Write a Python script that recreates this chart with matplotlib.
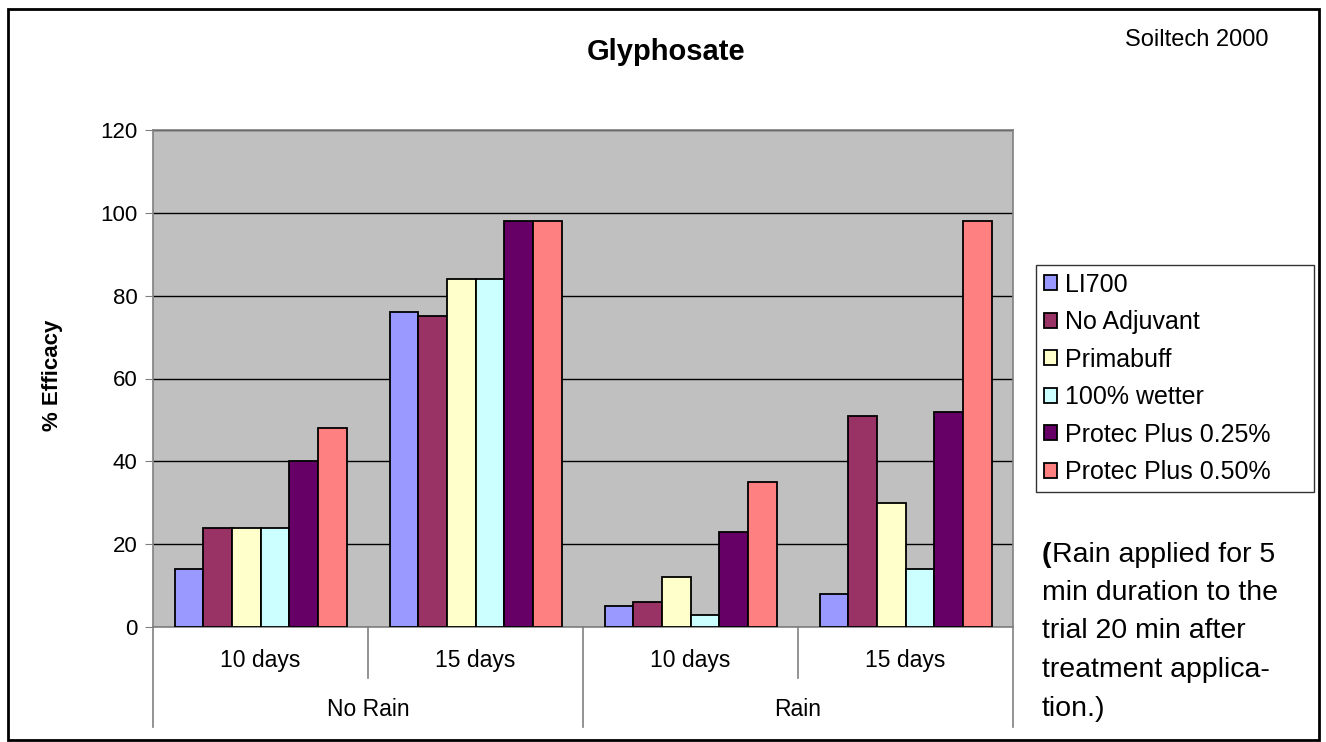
import numpy as np
import matplotlib
matplotlib.use("Agg")
import matplotlib.pyplot as plt
import matplotlib.transforms as mtransforms
from matplotlib.patches import Rectangle
from matplotlib.lines import Line2D

plt.rcParams["font.family"] = ["Liberation Sans", "DejaVu Sans"]

# ── Data ───────────────────────────────────────────────────────────────────
series = ["LI700", "No Adjuvant", "Primabuff", "100% wetter",
          "Protec Plus 0.25%", "Protec Plus 0.50%"]
colors = ["#9999FF", "#993366", "#FFFFCC", "#CCFFFF", "#660066", "#FF8080"]
days = ["10 days", "15 days", "10 days", "15 days"]
conditions = ["No Rain", "Rain"]

li700 = [14, 76, 5, 8]
no_adjuvant = [24, 75, 6, 51]
primabuff = [24, 84, 12, 30]
wetter = [24, 84, 3, 14]
protec_025 = [40, 98, 23, 52]
protec_050 = [48, 98, 35, 98]
values = [li700, no_adjuvant, primabuff, wetter, protec_025, protec_050]

# ── Figure ─────────────────────────────────────────────────────────────────
W, H = 1326, 742
fig = plt.figure(figsize=(W / 100, H / 100), dpi=100)
fig.patch.set_facecolor("white")

ax = fig.add_axes([153 / W, (H - 627) / H, 860 / W, 497 / H])
ax.set_facecolor("#C0C0C0")

x = np.arange(len(days))
w = 0.8 / len(series)
for i, (vals, col, name) in enumerate(zip(values, colors, series)):
    ax.bar(x + (i - 2.5) * w, vals, width=w, color=col, edgecolor="black",
           linewidth=1.3, label=name, zorder=3)

ax.set_xlim(-0.5, len(days) - 0.5)
ax.set_ylim(0, 120)
ax.set_yticks(np.arange(0, 121, 20))
ax.tick_params(axis="y", direction="out", length=6, color="#808080",
               labelsize=16, pad=5)
ax.set_xticks([])
ax.grid(axis="y", color="black", linewidth=1.0, zorder=1)
for s in ax.spines.values():
    s.set_color("#808080")
    s.set_linewidth(1.2)

# Category labels (two-level axis)
trans = mtransforms.blended_transform_factory(ax.transData, ax.transAxes)
for k, lab in enumerate(days):
    ax.text(k, -0.068, lab, transform=trans, ha="center", va="center",
            fontsize=16.5)
for k, lab in enumerate(conditions):
    ax.text(2 * k + 0.5, -0.165, lab, transform=trans, ha="center",
            va="center", fontsize=16.5)
for xs in [0.5, 2.5]:
    ax.add_line(Line2D([xs, xs], [0, -0.103], transform=trans,
                       color="#808080", linewidth=1.2, clip_on=False))
for xs in [-0.5, 1.5, 3.5]:
    ax.add_line(Line2D([xs, xs], [0, -0.201], transform=trans,
                       color="#808080", linewidth=1.2, clip_on=False))

fig.text(53 / W, 1 - 375 / H, "% Efficacy", rotation=90, ha="center",
         va="center", fontsize=16, fontweight="bold")

# Titles
fig.text(666 / W, 1 - 52 / H, "Glyphosate", ha="center", va="center",
         fontsize=21, fontweight="bold")
fig.text(1197 / W, 1 - 40 / H, "Soiltech 2000", ha="center", va="center",
         fontsize=17)

# Legend (fixed width box, like the original)
leg = fig.legend(loc="upper left",
                 bbox_to_anchor=(1036 / W, 1 - 265 / H, 278 / W, 0),
                 mode="expand", fontsize=18, frameon=True, fancybox=False,
                 handlelength=0.55, handleheight=0.55, handletextpad=0.3,
                 labelspacing=0.54, borderpad=0.3, borderaxespad=0)
leg.get_frame().set_edgecolor("black")
leg.get_frame().set_linewidth(1.0)

# Note
paren = fig.text(1042 / W, 1 - 555 / H, "(", ha="left", va="center",
                 fontsize=20.5, fontweight="bold")
first = fig.text(1049 / W, 1 - 555 / H, "Rain applied for 5", ha="left",
                 va="center", fontsize=20.5)
note = ["min duration to the", "trial 20 min after",
        "treatment applica-", "tion.)"]
for j, line in enumerate(note):
    fig.text(1042 / W, 1 - (593 + 38.5 * j) / H, line, ha="left",
             va="center", fontsize=20.5)

# place first line right after the bold bracket
fig.canvas.draw()
bb = paren.get_window_extent()
first.set_position((bb.x1 / W, 1 - 555 / H))

# Outer border
fig.add_artist(Rectangle((8 / W, 2 / H), 1311 / W, 731 / H,
                         transform=fig.transFigure, fill=False,
                         edgecolor="black", linewidth=2))

fig.savefig("out.png", dpi=100)
